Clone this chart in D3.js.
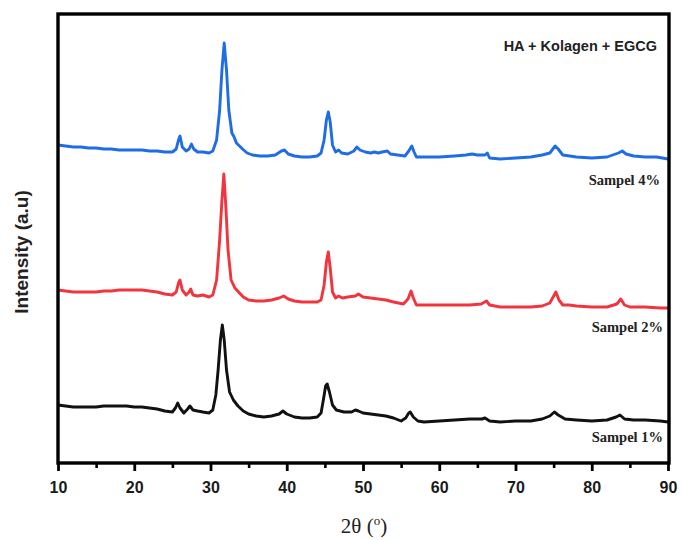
<!DOCTYPE html>
<html>
<head>
<meta charset="utf-8">
<script src="https://cdn.jsdelivr.net/npm/d3@7"></script>
<style>
  html, body { margin: 0; padding: 0; background: #ffffff; }
  svg { display: block; }
</style>
</head>
<body>
<svg id="chart" width="681" height="540"></svg>
<script>
// XRD patterns of HA + Kolagen + EGCG samples, stacked with vertical offsets.
// Each series: 2θ positions and intensities (a.u., offset already applied).

const theta4 = [10,11,12,13,14,15,16,17,18,19,20,21,22,23,24,25,25.5,25.8,26.0,26.3,26.8,27.2,27.5,27.8,28.3,29.0,29.8,30.3,30.8,31.2,31.5,31.8,32.1,32.4,32.8,33.1,33.4,33.8,34.2,34.8,35.5,36.5,37.5,38.5,39.3,39.7,40.2,41,42,43,44,44.5,44.9,45.2,45.45,45.7,46.0,46.4,46.8,47.2,48,48.8,49.2,49.6,50.3,51,51.5,52,52.5,53.2,53.6,55.5,56.0,56.4,56.7,57.0,58,60,62,63.5,64.3,65,66.0,66.3,66.6,68,70,72,73.5,74.5,75.2,75.6,76.2,78,80,82,83.5,84.0,84.5,85.5,87,88.5,90];
const sample4 = [318,317,316,316,315,315,314,314,313,313,313,313,312,312,311,311,314,323,327,316,312,314,319,314,311,311,310,312,323,353,393,420,393,353,330,326,320,317,314,310,308,307,307,308,312,313,309,307,306,306,307,310,323,343,351,341,318,311,313,310,309,312,316,313,311,310,311,310,311,312,309,307,312,317,311,306,306,306,307,308,309,308,308,310,305,304,305,306,308,310,317,314,308,306,305,306,310,312,309,307,306,306,304];

const theta2 = [10,11,12,13,14,15,16,17,18,19,20,21,22,23,24,25,25.5,25.8,26.0,26.3,26.8,27.2,27.4,27.7,28.3,29.0,29.8,30.3,30.8,31.2,31.5,31.75,32.0,32.3,32.7,33.2,33.8,34.3,35,36,37,38,39.0,39.6,40.2,41,42,43,44,44.5,44.9,45.2,45.45,45.7,46.0,46.4,46.8,47.3,48,49.0,49.4,50,51,52,53,54,55.3,55.9,56.3,56.6,57.0,58,60,62,64,65.5,66.2,66.6,68,70,72,73.5,74.5,75.3,75.7,76.2,77,78,80,82,83.3,83.8,84.3,85,87,89,90];
const sample2 = [173,172,171,171,171,171,172,172,173,173,173,173,172,171,169,168,171,180,183,173,168,171,174,168,167,168,166,168,183,223,263,289,258,213,183,175,170,166,163,162,162,163,165,167,164,162,161,161,161,163,178,201,211,195,171,165,167,165,166,167,169,166,165,164,163,161,159,164,172,165,158,158,158,158,158,159,162,158,156,156,156,157,160,171,163,158,158,157,156,156,159,164,158,156,156,155,155];

const theta1 = [10,11,12,13,14,15,16,17,18,19,20,21,22,23,24,25,25.4,25.7,26.0,26.5,27.0,27.3,27.7,28.3,29.0,29.8,30.3,30.7,31.0,31.3,31.55,31.8,32.1,32.5,33.0,33.6,34.3,35,36,37,38,39.0,39.5,40.0,41,42,43,44,44.5,44.8,45.1,45.3,45.6,46.0,46.5,47,47.5,48.5,49.0,49.4,50,51,52,53,54,55,55.6,56.0,56.2,56.6,57.2,58,60,62,64,65.6,66.0,66.6,68,70,72,73.5,74.5,75.1,75.6,76.5,78,80,82,83.2,83.7,84.3,85.5,87,89,90];
const sample1 = [58,57,56,56,56,56,57,57,57,57,56,56,55,54,52,51,55,60,55,50,54,57,53,52,51,50,53,68,93,123,138,123,93,71,63,57,52,49,47,46,47,49,52,49,46,45,45,46,50,63,77,79,71,58,53,52,51,51,53,52,50,49,48,47,45,42,45,50,51,46,42,41,42,43,44,44,45,42,41,42,42,44,47,51,48,44,43,42,43,46,48,44,43,43,42,41];

const xTicksMajor = [10,20,30,40,50,60,70,80,90];
const xTicksMinor = [15,25,35,45,55,65,75,85];

const seriesNames = ["Sampel 4%", "Sampel 2%", "Sampel 1%"];
const seriesColors = ["#1f6de6", "#f2343f", "#111111"];

const series = [
  { name: seriesNames[0], color: seriesColors[0], pts: theta4.map((t, i) => [t, sample4[i]]) },
  { name: seriesNames[1], color: seriesColors[1], pts: theta2.map((t, i) => [t, sample2[i]]) },
  { name: seriesNames[2], color: seriesColors[2], pts: theta1.map((t, i) => [t, sample1[i]]) }
];

const svg = d3.select("#chart");
const frame = { left: 58, right: 669, top: 14, bottom: 463 };

const x = d3.scaleLinear().domain([10, 90]).range([frame.left, 668]);
const y = d3.scaleLinear().domain([0, 449]).range([frame.bottom, frame.top]);

// traces
const line = d3.line().x(d => x(d[0])).y(d => y(d[1])).curve(d3.curveLinear);
const plot = svg.append("g");
series.forEach(s => {
  plot.append("path")
    .datum(s.pts)
    .attr("fill", "none")
    .attr("stroke", s.color)
    .attr("stroke-width", 2.9)
    .attr("stroke-linejoin", "round")
    .attr("d", line);
});

// frame
svg.append("rect")
  .attr("x", frame.left).attr("y", frame.top)
  .attr("width", frame.right - frame.left).attr("height", frame.bottom - frame.top)
  .attr("fill", "none").attr("stroke", "#000").attr("stroke-width", 3.4);

// bottom axis (major ticks labelled, minor ticks unlabelled)
const xAxis = svg.append("g").attr("transform", `translate(0,${frame.bottom})`)
  .call(d3.axisBottom(x).tickValues(xTicksMajor).tickSize(8).tickPadding(11).tickFormat(d3.format("d")));
xAxis.select(".domain").remove();
xAxis.selectAll(".tick line").attr("stroke", "#000").attr("stroke-width", 2.8);
xAxis.selectAll(".tick text")
  .attr("fill", "#1a1a1a")
  .style("font-family", "Arial, 'Liberation Sans', sans-serif")
  .style("font-weight", "bold")
  .style("font-size", "16px");

const xMinor = svg.append("g").attr("transform", `translate(0,${frame.bottom})`)
  .call(d3.axisBottom(x).tickValues(xTicksMinor).tickSize(5).tickFormat(""));
xMinor.select(".domain").remove();
xMinor.selectAll(".tick line").attr("stroke", "#000").attr("stroke-width", 2.6);

// axis titles
const xt = svg.append("text")
  .attr("x", 364).attr("y", 533)
  .attr("text-anchor", "middle")
  .style("font-family", "'Liberation Serif', 'Times New Roman', serif")
  .style("font-size", "21px")
  .attr("fill", "#222");
xt.append("tspan").text("2θ (");
xt.append("tspan").attr("font-size", "13px").attr("dy", -8).text("o");
xt.append("tspan").attr("dy", 8).text(")");

svg.append("text")
  .attr("transform", "translate(28,252) rotate(-90)")
  .attr("text-anchor", "middle")
  .style("font-family", "Arial, 'Liberation Sans', sans-serif")
  .style("font-weight", "bold")
  .style("font-size", "19px")
  .attr("fill", "#222")
  .text("Intensity (a.u)");

// annotations
svg.append("text")
  .attr("x", 657).attr("y", 51)
  .attr("text-anchor", "end")
  .style("font-family", "Arial, 'Liberation Sans', sans-serif")
  .style("font-weight", "bold")
  .style("font-size", "14.5px")
  .attr("fill", "#222")
  .text("HA + Kolagen + EGCG");

const labelY = [185, 332, 442];
const labelX = [660, 663, 663];
seriesNames.forEach((n, i) => {
  svg.append("text")
    .attr("x", labelX[i]).attr("y", labelY[i])
    .attr("text-anchor", "end")
    .style("font-family", "'Liberation Serif', 'Times New Roman', serif")
    .style("font-weight", "bold")
    .style("font-size", "14.5px")
    .attr("fill", "#222")
    .text(n);
});
</script>
</body>
</html>
